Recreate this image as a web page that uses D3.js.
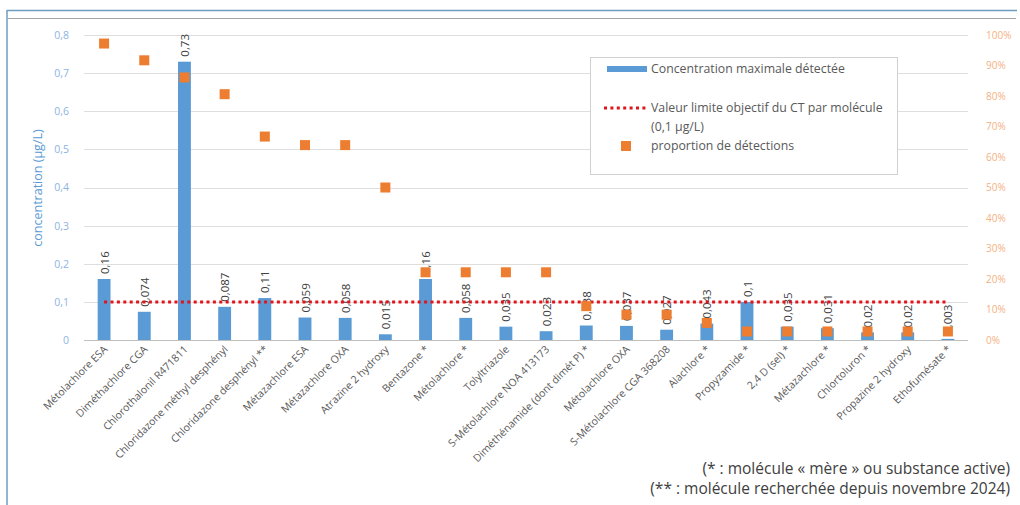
<!DOCTYPE html>
<html>
<head>
<meta charset="utf-8">
<script src="https://cdn.jsdelivr.net/npm/d3@7"></script>
<style>
  body { margin: 0; background: #fff; }
  text { font-family: "Open Sans", "Noto Sans", sans-serif; }
</style>
</head>
<body>
<div id="chart"></div>
<script>
var width = 1020
var height = 505

var categories = ["Métolachlore ESA", "Diméthachlore CGA", "Chlorothalonil R471811",
  "Chloridazone méthyl desphényl", "Chloridazone desphényl **", "Métazachlore ESA",
  "Métazachlore OXA", "Atrazine 2 hydroxy", "Bentazone *", "Métolachlore *",
  "Tolyltriazole", "S-Métolachlore NOA 413173", "Diméthénamide (dont dimét P) *",
  "Métolachlore OXA", "S-Métolachlore CGA 368208", "Alachlore *", "Propyzamide *",
  "2,4 D (sel) *", "Métazachlore *", "Chlortoluron *", "Propazine 2 hydroxy", "Ethofumésate *"]
var concentration = [0.16, 0.074, 0.73, 0.087, 0.11, 0.059, 0.058, 0.015, 0.16, 0.058,
  0.035, 0.023, 0.038, 0.037, 0.027, 0.043, 0.1, 0.035, 0.031, 0.02, 0.02, 0.003]
var detections = [0.972, 0.917, 0.861, 0.806, 0.667, 0.639, 0.639, 0.5, 0.222, 0.222,
  0.222, 0.222, 0.111, 0.083, 0.083, 0.056, 0.028, 0.028, 0.028, 0.028, 0.028, 0.028]
var limitValue = 0.1
var leftTicks = [0, 0.1, 0.2, 0.3, 0.4, 0.5, 0.6, 0.7, 0.8]
var rightTicks = [0, 0.1, 0.2, 0.3, 0.4, 0.5, 0.6, 0.7, 0.8, 0.9, 1]
var footnotes = ["(* : molécule « mère » ou substance active)",
  "(** : molécule recherchée depuis novembre 2024)"]

var blue = "#5B9BD5"
var orange = "#ED7D31"
var red = "#E0151B"
var fr = d3.formatLocale({decimal: ",", thousands: " ", grouping: [3], currency: ["", "€"]})
var comma = function(v){ return String(v).replace(".", ",") }

var svg = d3.select("#chart").append("svg").attr("width", width).attr("height", height)

// cadre
svg.append("line").attr("x1", 7).attr("x2", 1017).attr("y1", 10.5).attr("y2", 10.5)
  .style("stroke", "#6E9DC0").style("stroke-width", 1.5)
svg.append("line").attr("x1", 7).attr("x2", 7).attr("y1", 10).attr("y2", 505)
  .style("stroke", "#6E9DC0").style("stroke-width", 1.5)
svg.append("line").attr("x1", 8).attr("x2", 1016).attr("y1", 18.5).attr("y2", 18.5)
  .style("stroke", "#A6A6A6").style("stroke-width", 1)

var x = d3.scaleBand().domain(categories).range([84, 968]).paddingInner(0.68).paddingOuter(0.34)
var yL = d3.scaleLinear().domain([0, 0.8]).range([340, 35])
var yR = d3.scaleLinear().domain([0, 1]).range([340, 35])

// grille
svg.append("g").selectAll("line").data(leftTicks).enter().append("line")
  .attr("x1", 84).attr("x2", 968)
  .attr("y1", function(d){ return Math.round(yL(d)) + 0.5 })
  .attr("y2", function(d){ return Math.round(yL(d)) + 0.5 })
  .style("stroke", function(d){ return d === 0 ? "#BFBFBF" : "#DEDEDE" })
  .style("stroke-width", 1)

// axes
var axL = svg.append("g").attr("transform", "translate(72,0)")
  .call(d3.axisLeft(yL).tickValues(leftTicks).tickSize(0)
    .tickFormat(function(d){ return d === 0 ? "0" : fr.format(".1f")(d) }))
axL.select(".domain").remove()
axL.selectAll("text").style("fill", "#8DB4E2").style("font-size", "10.5px")

var axR = svg.append("g").attr("transform", "translate(983,0)")
  .call(d3.axisRight(yR).tickValues(rightTicks).tickSize(0).tickFormat(d3.format(".0%")))
axR.select(".domain").remove()
axR.selectAll("text").style("fill", "#F4B183").style("font-size", "10px")

svg.append("text").attr("transform", "translate(42,188) rotate(-90)")
  .attr("text-anchor", "middle").style("fill", blue).style("font-size", "12.5px")
  .text("concentration (µg/L)")

// catégories
svg.append("g").selectAll("text").data(categories).enter().append("text")
  .attr("transform", function(d){
    return "translate(" + (x(d) + x.bandwidth() / 2 + 4) + ",350) rotate(-45)"
  })
  .attr("text-anchor", "end")
  .style("fill", "#595959").style("font-size", "10.5px")
  .text(function(d){ return d })

// barres
svg.append("g").selectAll("rect").data(concentration).enter().append("rect")
  .attr("x", function(d, i){ return x(categories[i]) })
  .attr("width", x.bandwidth())
  .attr("y", function(d){ return yL(d) })
  .attr("height", function(d){ return yL(0) - yL(d) })
  .style("fill", blue)

// étiquettes des barres
svg.append("g").selectAll("text").data(concentration).enter().append("text")
  .attr("transform", function(d, i){
    return "translate(" + (x(categories[i]) + x.bandwidth() / 2 + 4.5) + "," + (yL(d) - 5) + ") rotate(-90)"
  })
  .style("fill", "#404040").style("font-size", "11.5px")
  .text(function(d){ return comma(d) })

// valeur limite
svg.append("line")
  .attr("x1", x(categories[0]) + x.bandwidth() / 2)
  .attr("x2", x(categories[categories.length - 1]) + x.bandwidth() / 2)
  .attr("y1", yL(limitValue)).attr("y2", yL(limitValue))
  .style("stroke", red).style("stroke-width", 3).style("stroke-dasharray", "3,3.4")

// proportion de détections
svg.append("g").selectAll("rect").data(detections).enter().append("rect")
  .attr("x", function(d, i){ return x(categories[i]) + x.bandwidth() / 2 - 5 })
  .attr("y", function(d){ return yR(d) - 5 })
  .attr("width", 10).attr("height", 10)
  .style("fill", orange)

// légende
var lg = svg.append("g")
lg.append("rect").attr("x", 590.5).attr("y", 57.5).attr("width", 307).attr("height", 117)
  .style("fill", "#fff").style("stroke", "#D0D0D0")
lg.append("rect").attr("x", 607).attr("y", 66).attr("width", 40).attr("height", 6).style("fill", blue)
lg.append("line").attr("x1", 604).attr("x2", 648).attr("y1", 108).attr("y2", 108)
  .style("stroke", red).style("stroke-width", 3).style("stroke-dasharray", "3,3.4")
lg.append("rect").attr("x", 621).attr("y", 141).attr("width", 10).attr("height", 10).style("fill", orange)
var lgText = [["Concentration maximale détectée", 73], ["Valeur limite objectif du CT par molécule", 112],
  ["(0,1 µg/L)", 131], ["proportion de détections", 150]]
lg.selectAll("text.l").data(lgText).enter().append("text")
  .attr("x", 651).attr("y", function(d){ return d[1] })
  .style("fill", "#595959").style("font-size", "12.3px")
  .text(function(d){ return d[0] })

// notes
svg.append("g").selectAll("text").data(footnotes).enter().append("text")
  .attr("x", 1010).attr("y", function(d, i){ return 474 + i * 20 })
  .attr("text-anchor", "end")
  .style("fill", "#404040").style("font-size", "15.5px")
  .text(function(d){ return d })
</script>
</body>
</html>
